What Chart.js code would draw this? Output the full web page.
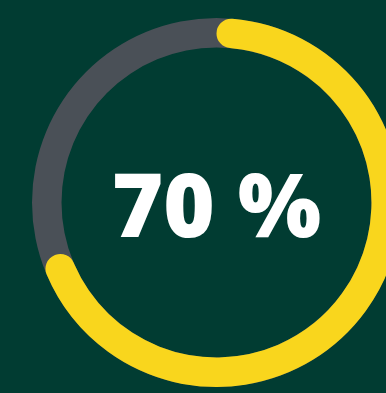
<!DOCTYPE html>
<html>
<head>
<meta charset="utf-8">
<script src="https://cdn.jsdelivr.net/npm/chart.js@4/dist/chart.umd.min.js"></script>
<style>
  html, body { margin: 0; padding: 0; width: 386px; height: 393px; overflow: hidden; background: #013c32; }
  .box { position: absolute; left: 32px; top: 18px; width: 369px; height: 369px; }
  .box canvas { position: absolute; left: 0; top: 0; }
  #label { position: absolute; left: 0; top: 159px; width: 433px; text-align: center;
           font-family: "Open Sans", "Liberation Sans", sans-serif; font-weight: 800; font-size: 88px;
           line-height: 88px; color: #ffffff; white-space: pre; }
</style>
</head>
<body>
<div class="box"><canvas id="track"></canvas></div>
<div class="box"><canvas id="gauge"></canvas></div>
<div id="label"></div>
<script>
const categories = ['Completed', 'Remaining'];
const values = [70, 30];
const trackValues = [100];
const labelText = '70 %';

const yellow = '#f9d61d';
const grey = '#4a5057';

document.getElementById('label').textContent = labelText;

const common = {
  responsive: true,
  maintainAspectRatio: false,
  animation: false,
  events: [],
  cutout: '84%',
  layout: { padding: 0 },
  plugins: { legend: { display: false }, tooltip: { enabled: false } }
};

new Chart(document.getElementById('track'), {
  type: 'doughnut',
  data: { labels: ['Track'], datasets: [{ data: trackValues, backgroundColor: [grey], borderWidth: 0 }] },
  options: common
});

new Chart(document.getElementById('gauge'), {
  type: 'doughnut',
  data: {
    labels: categories,
    datasets: [{
      data: values,
      backgroundColor: [yellow, 'rgba(0,0,0,0)'],
      borderWidth: 0,
      borderRadius: [20, 0]
    }]
  },
  options: common
});
</script>
</body>
</html>
